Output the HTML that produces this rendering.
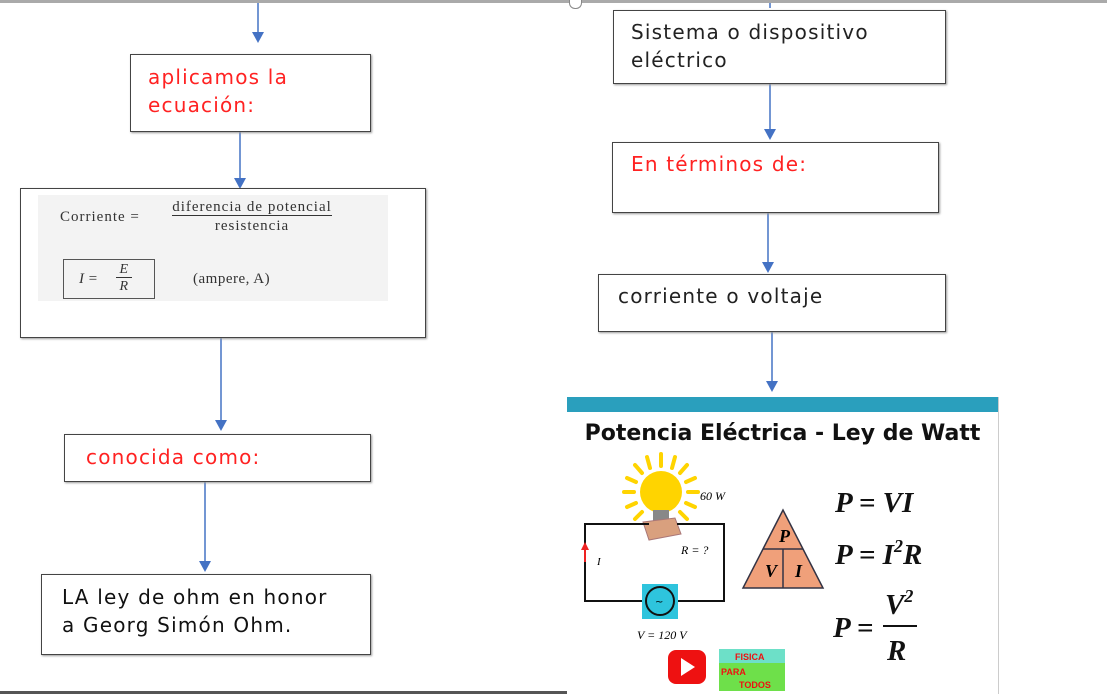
<!DOCTYPE html>
<html><head><meta charset="utf-8"><style>
body{margin:0;width:1107px;height:694px;background:#fff;position:relative;overflow:hidden;font-family:"DejaVu Sans","Liberation Sans",sans-serif}
.b{position:absolute;border:1.5px solid #444;background:#fff;box-sizing:border-box;box-shadow:1px 1px 2px #999}
.t{position:absolute;font-size:20px;line-height:28px;letter-spacing:1.2px}
.r{color:#f22}
.serif{font-family:"Liberation Serif",serif;position:absolute}
</style></head><body>
<div style="position:absolute;left:0;top:0;width:1107px;height:3px;background:#aaa"></div>
<div style="position:absolute;left:569px;top:0;width:11px;height:8px;border:1.5px solid #888;border-top:none;border-radius:0 0 6px 6px;background:#fff"></div>
<svg width="1107" height="694" style="position:absolute;left:0;top:0">
<g stroke="#4472c4" stroke-width="1.5" fill="#4472c4">
<line x1="258" y1="3" x2="258" y2="34"/><polygon points="252,32 264,32 258,43" stroke="none"/>
<line x1="240" y1="132" x2="240" y2="180"/><polygon points="234,178 246,178 240,189" stroke="none"/>
<line x1="221" y1="338" x2="221" y2="422"/><polygon points="215,420 227,420 221,431" stroke="none"/>
<line x1="205" y1="482" x2="205" y2="563"/><polygon points="199,561 211,561 205,572" stroke="none"/>
<line x1="770" y1="84" x2="770" y2="131"/><polygon points="764,129 776,129 770,140" stroke="none"/>
<line x1="768" y1="213" x2="768" y2="264"/><polygon points="762,262 774,262 768,273" stroke="none"/>
<line x1="772" y1="332" x2="772" y2="383"/><polygon points="766,381 778,381 772,392" stroke="none"/>
<line x1="770" y1="3" x2="770" y2="8"/>
</g></svg>

<div class="b" style="left:130px;top:54px;width:241px;height:78px"></div>
<div class="t r" style="left:148px;top:63px">aplicamos la<br>ecuación:</div>

<div class="b" style="left:20px;top:188px;width:406px;height:150px"></div>
<div style="position:absolute;left:38px;top:195px;width:350px;height:106px;background:#f3f3f3"></div>
<div class="serif" style="left:60px;top:209px;font-size:15px;letter-spacing:1px;color:#333">Corriente =</div>
<div class="serif" style="left:152px;top:198px;font-size:15px;letter-spacing:1px;color:#333;text-align:center;width:200px;line-height:19px"><span style="border-bottom:1.5px solid #333">diferencia de potencial</span><br>resistencia</div>
<div style="position:absolute;left:63px;top:259px;width:92px;height:40px;border:1.5px solid #555;box-sizing:border-box"></div>
<div class="serif" style="left:79px;top:271px;font-size:15px;font-style:italic;color:#333">I =</div>
<div class="serif" style="left:116px;top:261px;font-size:14px;font-style:italic;color:#333;text-align:center;line-height:17px"><span style="border-bottom:1.5px solid #333">&nbsp;E&nbsp;</span><br>R</div>
<div class="serif" style="left:193px;top:271px;font-size:15px;letter-spacing:0.5px;color:#333">(ampere, A)</div>

<div class="b" style="left:64px;top:434px;width:307px;height:48px"></div>
<div class="t r" style="left:86px;top:443px">conocida como:</div>

<div class="b" style="left:41px;top:574px;width:330px;height:81px"></div>
<div class="t" style="left:62px;top:583px;color:#111">LA ley de ohm en honor<br>a Georg Simón Ohm.</div>

<div class="b" style="left:613px;top:10px;width:333px;height:74px"></div>
<div class="t" style="left:631px;top:18px;color:#222">Sistema o dispositivo<br>eléctrico</div>

<div class="b" style="left:612px;top:142px;width:327px;height:71px"></div>
<div class="t r" style="left:631px;top:150px">En términos de:</div>

<div class="b" style="left:598px;top:274px;width:348px;height:58px"></div>
<div class="t" style="left:618px;top:282px;color:#222">corriente o voltaje</div>

<div style="position:absolute;left:567px;top:397px;width:431px;height:297px;background:#fff;border-right:1px solid #ccc"></div>
<div style="position:absolute;left:567px;top:397px;width:431px;height:15px;background:#2a9fbd"></div>
<div style="position:absolute;left:567px;top:421px;width:431px;text-align:center;font-weight:bold;font-size:22px;color:#111">Potencia Eléctrica - Ley de Watt</div>
<svg width="431" height="282" style="position:absolute;left:567px;top:412px">
<g stroke="#ffd400" stroke-width="4" stroke-linecap="round">
<line x1="94" y1="42" x2="94" y2="54"/>
<line x1="80" y1="45" x2="83" y2="56"/><line x1="108" y1="45" x2="105" y2="56"/>
<line x1="68" y1="53" x2="75" y2="61"/><line x1="120" y1="53" x2="113" y2="61"/>
<line x1="60" y1="66" x2="69" y2="70"/><line x1="128" y1="66" x2="119" y2="70"/>
<line x1="57" y1="80" x2="67" y2="80"/><line x1="131" y1="80" x2="121" y2="80"/>
<line x1="60" y1="95" x2="69" y2="91"/><line x1="128" y1="95" x2="119" y2="91"/>
<line x1="68" y1="107" x2="75" y2="100"/><line x1="120" y1="107" x2="113" y2="100"/></g>
<circle cx="94" cy="80" r="21" fill="#ffd400"/>
<rect x="86" y="98" width="16" height="14" fill="#888"/>
<polygon points="76,110 108,106 114,122 82,128" fill="#d9a07e" stroke="#a77"/>
<polyline points="82,112 18,112 18,189 75,189" fill="none" stroke="#111" stroke-width="2"/>
<polyline points="110,112 157,112 157,189 108,189" fill="none" stroke="#111" stroke-width="2"/>
<line x1="18" y1="150" x2="18" y2="135" stroke="#e22" stroke-width="2"/><polygon points="14,138 22,138 18,130" fill="#e22"/>
<rect x="75" y="172" width="36" height="35" fill="#2ec4dd"/>
<circle cx="93" cy="189" r="14" fill="#2ec4dd" stroke="#111" stroke-width="2"/>
<text x="88" y="193" font-size="10">~</text>
<text x="30" y="153" font-family="Liberation Serif" font-style="italic" font-size="11">I</text>
<text x="133" y="88" font-family="Liberation Serif" font-style="italic" font-size="12">60 W</text>
<text x="114" y="142" font-family="Liberation Serif" font-style="italic" font-size="12">R = ?</text>
<text x="70" y="227" font-family="Liberation Serif" font-style="italic" font-size="12">V = 120 V</text>
<polygon points="216,98 176,176 256,176" fill="#f0a07a" stroke="#334" stroke-width="1.5"/>
<line x1="196" y1="137" x2="236" y2="137" stroke="#334" stroke-width="1.5"/>
<line x1="216" y1="137" x2="216" y2="176" stroke="#334" stroke-width="1.5"/>
<text x="212" y="130" font-family="Liberation Serif" font-style="italic" font-weight="bold" font-size="18">P</text>
<text x="198" y="165" font-family="Liberation Serif" font-style="italic" font-weight="bold" font-size="18">V</text>
<text x="228" y="165" font-family="Liberation Serif" font-style="italic" font-weight="bold" font-size="18">I</text>
<g font-family="Liberation Serif" font-style="italic" font-weight="bold" font-size="29" fill="#111">
<text x="268" y="100">P = VI</text>
<text x="268" y="152">P = I<tspan font-size="18" dy="-12">2</tspan><tspan dy="12">R</tspan></text>
<text x="266" y="225">P =</text>
<text x="318" y="202">V<tspan font-size="18" dy="-12">2</tspan></text>
<line x1="316" y1="214" x2="350" y2="214" stroke="#111" stroke-width="2"/>
<text x="320" y="248">R</text></g>
<rect x="101" y="238" width="38" height="34" rx="8" fill="#e11"/>
<polygon points="114,246 114,264 128,255" fill="#fff"/>
<rect x="152" y="237" width="66" height="14" fill="#6de0c8"/>
<rect x="152" y="251" width="66" height="28" fill="#6ee04a"/>
<g font-family="Liberation Sans" font-weight="bold" font-size="9" fill="#e11">
<text x="168" y="248">FISICA</text><text x="154" y="263">PARA</text><text x="172" y="276">TODOS</text></g>
</svg>
<div style="position:absolute;left:0;top:691px;width:567px;height:3px;background:#555"></div>
</body></html>
